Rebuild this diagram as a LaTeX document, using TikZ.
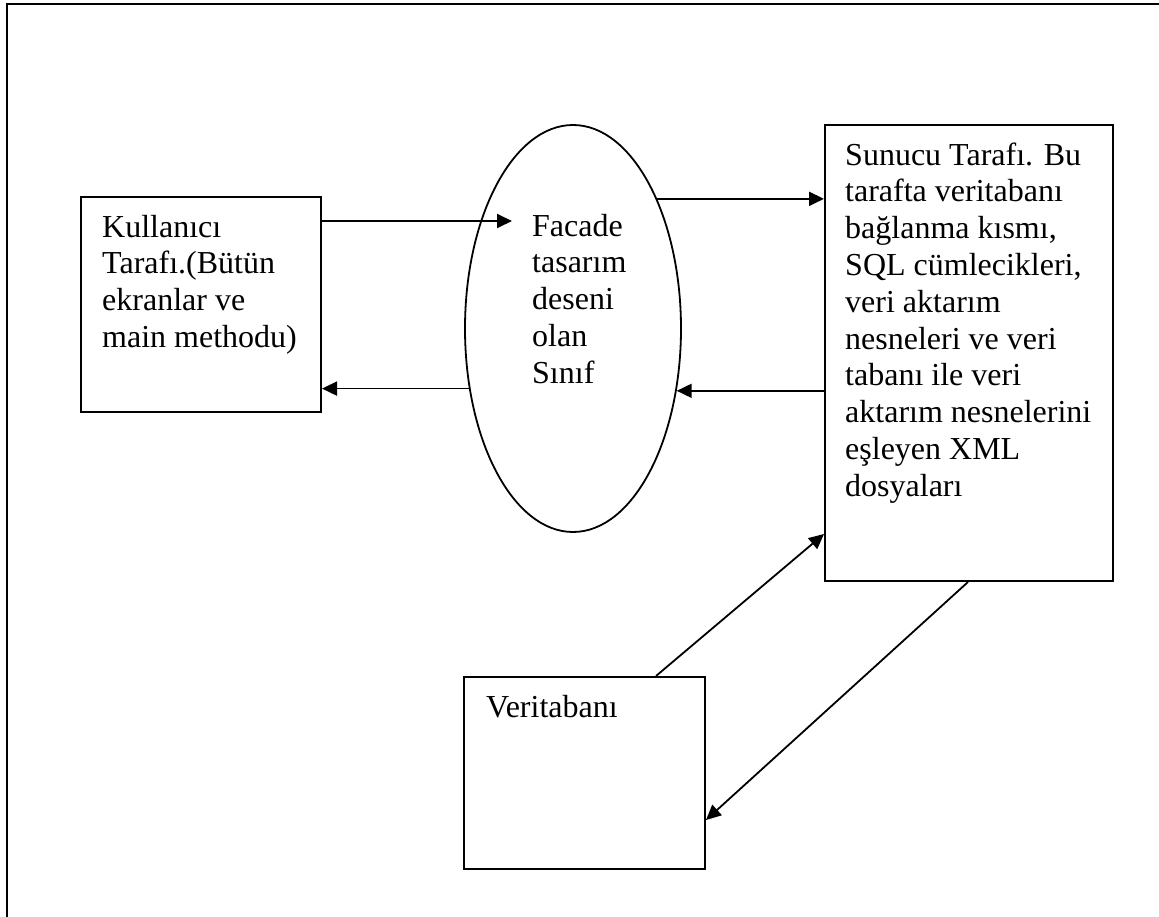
\documentclass[tikz,border=0pt]{standalone}
\usepackage{fontspec}
\setmainfont{Liberation Serif}
\usetikzlibrary{arrows.meta,shapes.geometric}

\tikzset{
  box/.style={draw, line width=2pt, rectangle, inner sep=0pt},
  oval/.style={draw, line width=1.8pt, ellipse, inner sep=0pt},
  % the base anchor of a multi-line label sits on its last line
  label/.style={align=left, inner sep=0pt, anchor=base west,
    font={\fontsize{32}{36.8}\selectfont}},
  arr/.style={line width=1.8pt, -{Triangle[length=15pt,width=14pt]}},
  frame/.style={line width=2.8pt}
}

\begin{document}
\begin{tikzpicture}[x=1pt, y=-1pt]
  \useasboundingbox (0,0) rectangle (1159,917);

  % page frame (top and left edges)
  \draw[frame] (7,917) -- (7,4) -- (1159,4);

  % components
  \node[box, minimum width=240pt, minimum height=215pt] (kul) at (201,304.5) {};
  \node[oval, minimum width=216pt, minimum height=407pt] (fac) at (573,328.5) {};
  \node[box, minimum width=288pt, minimum height=456pt] (sun) at (969,353) {};
  \node[box, minimum width=241pt, minimum height=192pt] (ver) at (584.5,773) {};

  % texts (positioned on the baseline of their last line)
  \node[label] (kulText) at (102,347.4) {Kullanıcı\\Tarafı.(Bütün\\ekranlar ve\\main methodu)};
  \node[label] (facText) at (532,383.2) {Facade\\tasarım\\deseni\\olan\\Sınıf};
  \node[label] (sunText) at (845,496.2) {Sunucu Tarafı. Bu\\tarafta veritabanı\\bağlanma kısmı,\\SQL cümlecikleri,\\veri aktarım\\nesneleri ve veri\\tabanı ile veri\\aktarım nesnelerini\\eşleyen XML\\dosyaları};
  \node[label] (verText) at (486,717) {Veritabanı};

  % connectors
  \coordinate (facIn) at (512,221);
  \draw[arr] (kul.east |- facIn) -- (facIn);
  \draw[arr] (fac.210.4) -- (kul.east |- fac.210.4);
  \draw[arr] (fac.57.9) -- (sun.west |- fac.57.9);
  \draw[arr] (sun.west |- fac.329.6) -- (fac.329.6);
  \draw[arr] ([xshift=193pt]ver.north west) -- ([yshift=48pt]sun.south west);
  \draw[arr] ([xshift=144pt]sun.south west) -- ([yshift=50pt]ver.south east);
\end{tikzpicture}
\end{document}
